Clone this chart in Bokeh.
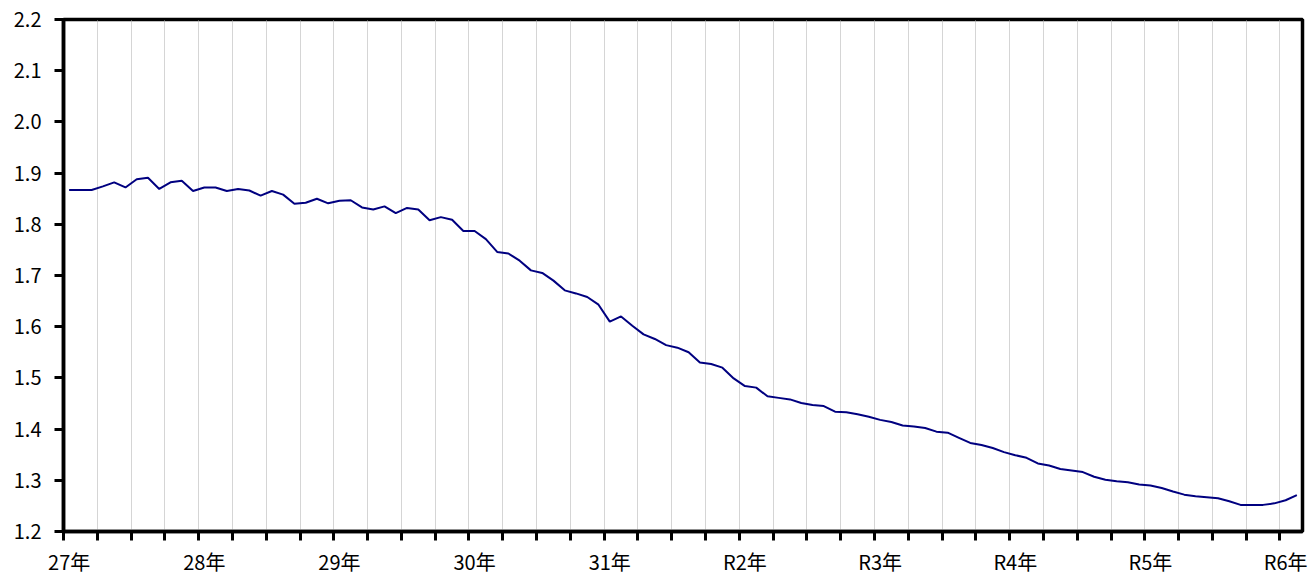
from bokeh.plotting import figure
from bokeh.models import FixedTicker, Range1d, PrintfTickFormatter, ColumnDataSource
from bokeh.embed import file_html
from bokeh.resources import INLINE

year_labels = ["27年", "28年", "29年", "30年", "31年", "R2年", "R3年", "R4年", "R5年", "R6年"]
y_ticks = [1.2, 1.3, 1.4, 1.5, 1.6, 1.7, 1.8, 1.9, 2.0, 2.1, 2.2]
n_months = 110

values = [
    1.867, 1.867, 1.867, 1.874, 1.882, 1.872, 1.888, 1.891, 1.869, 1.882, 1.885, 1.865,
    1.872, 1.872, 1.865, 1.869, 1.866, 1.856, 1.865, 1.858, 1.840, 1.842, 1.850, 1.841,
    1.846, 1.847, 1.833, 1.829, 1.835, 1.822, 1.832, 1.829, 1.808, 1.814, 1.809, 1.787,
    1.787, 1.771, 1.746, 1.743, 1.729, 1.710, 1.705, 1.690, 1.671, 1.665, 1.658, 1.643,
    1.610, 1.620, 1.602, 1.585, 1.576, 1.564, 1.559, 1.550, 1.530, 1.527, 1.520, 1.499,
    1.484, 1.481, 1.464, 1.461, 1.458, 1.451, 1.447, 1.445, 1.434, 1.433, 1.429, 1.424,
    1.418, 1.414, 1.407, 1.405, 1.402, 1.395, 1.393, 1.383, 1.373, 1.369, 1.363, 1.355,
    1.349, 1.344, 1.333, 1.329, 1.322, 1.319, 1.316, 1.307, 1.301, 1.298, 1.296, 1.292,
    1.290, 1.285, 1.278, 1.272, 1.269, 1.267, 1.265, 1.259, 1.252, 1.252, 1.252, 1.255,
    1.261, 1.271,
]

FONT = "Noto Sans CJK JP"

x = [i + 0.5 for i in range(len(values))]
src = ColumnDataSource(dict(x=x, y=values))

p = figure(width=1309, height=578, output_backend="svg", toolbar_location=None,
           x_range=Range1d(0, n_months), y_range=Range1d(1.2, 2.2),
           min_border_left=63, min_border_right=7, min_border_top=19, min_border_bottom=47,
           background_fill_color="white", border_fill_color="white")

p.line("x", "y", source=src, line_color="#000080", line_width=2)

label_pos = [12 * k + 0.5 for k in range(len(year_labels))]
quarter = [3 * k for k in range(n_months // 3 + 1)]
xt = FixedTicker(ticks=label_pos, minor_ticks=quarter)
p.xaxis.ticker = xt
p.xgrid.ticker = xt
p.xaxis.major_label_overrides = {pos: lab for pos, lab in zip(label_pos, year_labels)}
p.xaxis.major_tick_line_color = None
p.xaxis.major_tick_out = 0
p.xaxis.major_tick_in = 0
p.xaxis.minor_tick_line_color = "black"
p.xaxis.minor_tick_line_width = 3
p.xaxis.minor_tick_out = 9
p.xaxis.minor_tick_in = 0
p.xaxis.major_label_standoff = 6
p.xaxis.axis_line_width = 3.5
p.xaxis.axis_line_color = "black"

p.xgrid.grid_line_color = None
p.xgrid.minor_grid_line_color = "#aaaaaa"
p.xgrid.minor_grid_line_dash = "1 1"
p.xgrid.minor_grid_line_width = 1
p.ygrid.visible = False

p.yaxis.ticker = FixedTicker(ticks=y_ticks, minor_ticks=[])
p.yaxis.formatter = PrintfTickFormatter(format="%.1f")
p.yaxis.major_tick_out = 9
p.yaxis.major_tick_in = 0
p.yaxis.major_tick_line_width = 3
p.yaxis.major_tick_line_color = "black"
p.yaxis.minor_tick_line_color = None
p.yaxis.major_label_standoff = 13
p.yaxis.axis_line_width = 3.5
p.yaxis.axis_line_color = "black"

for ax in (p.xaxis, p.yaxis):
    ax.major_label_text_font = FONT
    ax.major_label_text_font_size = "20px"
    ax.major_label_text_color = "black"

p.outline_line_color = "black"
p.outline_line_width = 3.5
p.outline_line_alpha = 1.0

open("out.html", "w").write(file_html(p, INLINE))
